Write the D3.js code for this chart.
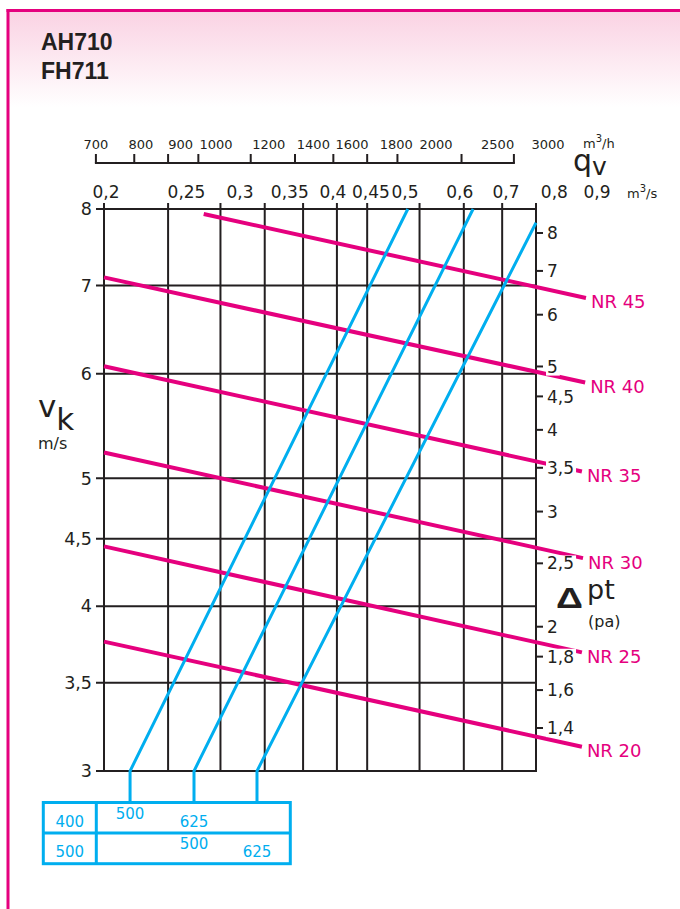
<!DOCTYPE html>
<html><head><meta charset="utf-8">
<script src="https://cdn.jsdelivr.net/npm/d3@7"></script>
<style>
body{margin:0;background:#fff}
svg{display:block}
text{font-family:"DejaVu Sans",sans-serif;fill:#231f20}
</style>
</head><body>
<svg id="c" width="680" height="909"></svg>
<script>
// ---------------- data ----------------
const titleLines = ["AH710", "FH711"];
const qTicks = [0.2, 0.25, 0.3, 0.35, 0.4, 0.45, 0.5, 0.6, 0.7, 0.8, 0.9];           // m3/s
const qTickLabels = ["0,2","0,25","0,3","0,35","0,4","0,45","0,5","0,6","0,7","0,8","0,9"];
const qhTicks = [700, 800, 900, 1000, 1200, 1400, 1600, 1800, 2000, 2500, 3000];     // m3/h
const vTicks = [3, 3.5, 4, 4.5, 5, 6, 7, 8];                                          // m/s
const vTickLabels = ["3","3,5","4","4,5","5","6","7","8"];
const dpTicks = [1.4, 1.6, 1.8, 2, 2.5, 3, 3.5, 4, 4.5, 5, 6, 7, 8];                   // Pa
const dpTickLabels = ["1,4","1,6","1,8","2","2,5","3","3,5","4","4,5","5","6","7","8"];
const nrNames  = ["NR 45","NR 40","NR 35","NR 30","NR 25","NR 20"];
const nrStartQ = [0.283, 0.2, 0.2, 0.2, 0.2, 0.2];
const nrStartV = [7.93, 7.10, 6.08, 5.23, 4.44, 3.76];
const nrEndQ   = [1.071, 1.068, 1.056, 1.06, 1.056, 1.056];
const nrEndV   = [6.85, 5.91, 5.06, 4.35, 3.69, 3.13];
const sizeBottomQ = [0.219, 0.2736, 0.3407];   // flow at v = 3 m/s
const sizeTopQ    = [0.576, 0.723, 0.9];
const sizeTopV    = [8, 8, 7.81];
const tableHeights = ["400", "500"];
const tableWidths  = [["500", "625"], ["500", "625"]];
const tableLineIdx = [[0, 1], [1, 2]];

// ---------------- setup ----------------
const PINK = "#e5007e", CYAN = "#00aeef", DARK = "#231f20";
const svg = d3.select("#c");

const x = d3.scaleLog().domain([0.2, 0.9]).range([104, 536]);
const y = d3.scaleLog().domain([3, 8]).range([771, 209]);
const yDp = d3.scaleLog().domain([1.4, 8]).range([728, 233]);
// the printed tick labels are spread out slightly differently from their ticks
const xQLabel = d3.scaleLog().domain([0.2, 0.25, 0.3, 0.5, 0.7, 0.9]).range([106, 186.5, 240, 405, 506, 597]);
const xQhLabel = d3.scaleLog().domain([700, 1000, 1600, 2000, 3000]).range([96, 216, 352, 436, 548]);

// header
const defs = svg.append("defs");
const grad = defs.append("linearGradient").attr("id", "hdr").attr("x1", 0).attr("y1", 0).attr("x2", 0).attr("y2", 1);
grad.append("stop").attr("offset", "0%").attr("stop-color", "#fad2e3");
grad.append("stop").attr("offset", "100%").attr("stop-color", "#ffffff");
svg.append("rect").attr("x", 8).attr("y", 11).attr("width", 672).attr("height", 96).attr("fill", "url(#hdr)");
svg.append("line").attr("x1", 6.5).attr("x2", 680).attr("y1", 10.5).attr("y2", 10.5).attr("stroke", PINK).attr("stroke-width", 3);
svg.append("line").attr("x1", 8).attr("x2", 8).attr("y1", 9).attr("y2", 909).attr("stroke", PINK).attr("stroke-width", 3);

svg.selectAll(".title").data(titleLines).join("text")
  .attr("x", 41).attr("y", (d, i) => 50 + i * 29)
  .style("font-family", "'Liberation Sans', Arial, sans-serif")
  .attr("font-weight", "bold").attr("font-size", 23).text(d => d);

// grid
const grid = svg.append("g").attr("stroke", DARK).attr("stroke-width", 2);
grid.selectAll(".vl").data(qTicks).join("line")
  .attr("x1", d => x(d)).attr("x2", d => x(d))
  .attr("y1", y(8) - 6).attr("y2", y(3) + 1);
grid.selectAll(".hl").data(vTicks).join("line")
  .attr("x1", x(0.2) - 8).attr("x2", x(0.9) + 1)
  .attr("y1", d => y(d)).attr("y2", d => y(d));
// right axis ticks
grid.selectAll(".rt").data(dpTicks).join("line")
  .attr("x1", x(0.9)).attr("x2", x(0.9) + 7)
  .attr("y1", d => yDp(d)).attr("y2", d => yDp(d));
// top m3/h axis
const xh = d => x(d / 3600);
grid.append("line").attr("x1", xh(700) - 1).attr("x2", xh(3000) + 1).attr("y1", 163).attr("y2", 163);
grid.selectAll(".ht").data(qhTicks).join("line")
  .attr("x1", d => xh(d)).attr("x2", d => xh(d)).attr("y1", 154).attr("y2", 163);

// tick labels
svg.selectAll(".qhl").data(qhTicks).join("text")
  .attr("x", d => xQhLabel(d)).attr("y", 149).attr("text-anchor", "middle")
  .attr("font-size", 13).text(d => d);
svg.selectAll(".ql").data(qTicks).join("text")
  .attr("x", d => xQLabel(d)).attr("y", 198).attr("text-anchor", "middle")
  .attr("font-size", 17).text((d, i) => qTickLabels[i]);
svg.selectAll(".vlab").data(vTicks).join("text")
  .attr("x", 92).attr("y", d => y(d)).attr("dy", "0.36em").attr("text-anchor", "end")
  .attr("font-size", 17.5).text((d, i) => vTickLabels[i]);

// NR lines
const nr = nrNames.map((n, i) => ({name: n, q0: nrStartQ[i], v0: nrStartV[i], q1: nrEndQ[i], v1: nrEndV[i]}));
svg.append("g").selectAll("line").data(nr).join("line")
  .attr("x1", d => x(d.q0)).attr("y1", d => y(d.v0))
  .attr("x2", d => x(d.q1)).attr("y2", d => y(d.v1))
  .attr("stroke", PINK).attr("stroke-width", 4);

// size lines
const sizes = sizeBottomQ.map((q, i) => ({qb: q, qt: sizeTopQ[i], vt: sizeTopV[i]}));
const TABLE_TOP = 802.5;
svg.append("g").selectAll("path").data(sizes).join("path")
  .attr("d", d => d3.line()([[x(d.qb), TABLE_TOP], [x(d.qb), y(3)], [x(d.qt), y(d.vt)]]))
  .attr("fill", "none").attr("stroke", CYAN).attr("stroke-width", 3);

// right axis labels with white backing
const rg = svg.append("g").selectAll("g").data(dpTicks).join("g");
rg.append("rect").attr("fill", "#fff");
rg.append("text").attr("x", 547).attr("y", d => yDp(d)).attr("dy", "0.36em")
  .attr("font-size", 17).text((d, i) => dpTickLabels[i]);
rg.each(function () {
  const t = d3.select(this).select("text").node().getBBox();
  d3.select(this).select("rect").attr("x", t.x - 1).attr("y", t.y + 2).attr("width", t.width + 3).attr("height", t.height - 3);
});

// NR labels
svg.selectAll(".nrl").data(nr).join("text")
  .attr("x", d => x(d.q1) + 5).attr("y", d => y(d.v1) + 4).attr("dy", "0.36em")
  .attr("font-size", 18).style("fill", PINK).text(d => d.name);

// axis titles
const qv = svg.append("text").attr("x", 573).attr("y", 171);
qv.append("tspan").attr("font-size", 30).text("q");
qv.append("tspan").attr("font-size", 25).attr("dy", 4).text("v");

const u1 = svg.append("text").attr("x", 583).attr("y", 148).attr("font-size", 13);
u1.append("tspan").text("m");
u1.append("tspan").attr("font-size", 10).attr("dy", -6).text("3");
u1.append("tspan").attr("dy", 6).text("/h");
const u2 = svg.append("text").attr("x", 627).attr("y", 198).attr("font-size", 13);
u2.append("tspan").text("m");
u2.append("tspan").attr("font-size", 10).attr("dy", -6).text("3");
u2.append("tspan").attr("dy", 6).text("/s");

const vk = svg.append("text").attr("x", 38).attr("y", 417).attr("font-size", 31);
vk.append("tspan").text("v");
vk.append("tspan").attr("dy", 13).text("k");
svg.append("text").attr("x", 38).attr("y", 449).attr("font-size", 16).text("m/s");

svg.append("text").attr("x", 556).attr("y", 608).attr("font-size", 30)
  .style("font-family", "'Liberation Sans', Arial, sans-serif").attr("font-weight", "bold")
  .attr("transform", "translate(556,0) scale(1.25,1) translate(-556,0)").text("Δ");
svg.append("text").attr("x", 587).attr("y", 599).attr("font-size", 27).text("pt");
svg.append("text").attr("x", 588).attr("y", 627).attr("font-size", 16).text("(pa)");

// table
const T = {x0: 43.3, x1: 290.3, y0: TABLE_TOP, y1: 863.7, ymid: 833, xdiv: 96.3};
const tg = svg.append("g").attr("stroke", CYAN).attr("stroke-width", 3).attr("fill", "none");
tg.append("rect").attr("x", T.x0).attr("y", T.y0).attr("width", T.x1 - T.x0).attr("height", T.y1 - T.y0);
tg.append("line").attr("x1", T.x0).attr("x2", T.x1).attr("y1", T.ymid).attr("y2", T.ymid);
tg.append("line").attr("x1", T.xdiv).attr("x2", T.xdiv).attr("y1", T.y0).attr("y2", T.y1);
const rowTop = [T.y0, T.ymid];
svg.selectAll(".th").data(tableHeights).join("text")
  .attr("x", (T.x0 + T.xdiv) / 2).attr("y", (d, i) => rowTop[i] + 19).attr("dy", "0.36em")
  .attr("text-anchor", "middle").attr("font-size", 15).style("fill", CYAN).text(d => d);
tableWidths.forEach((row, r) => {
  svg.selectAll(".tw" + r).data(row).join("text")
    .attr("x", (d, k) => x(sizeBottomQ[tableLineIdx[r][k]]))
    .attr("y", (d, k) => rowTop[r] + (k === 0 ? 11 : 19)).attr("dy", "0.36em")
    .attr("text-anchor", "middle").attr("font-size", 15).style("fill", CYAN).text(d => d);
});
</script>
</body></html>
